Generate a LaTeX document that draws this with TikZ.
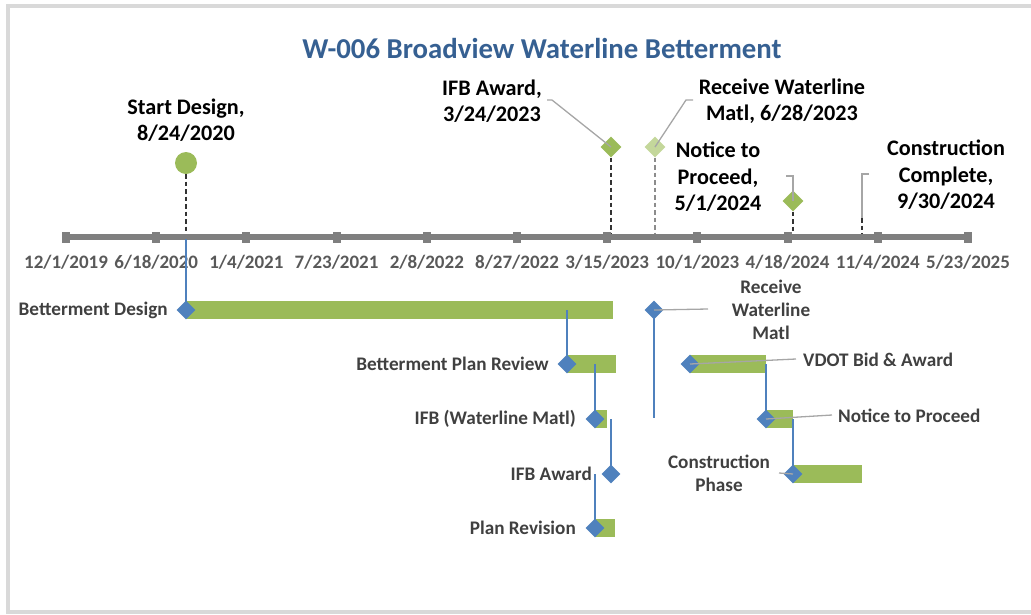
\documentclass[tikz,border=0pt]{standalone}
\usepackage{fontspec}
\setmainfont{Carlito}
\usetikzlibrary{shapes.geometric}
\definecolor{bargreen}{RGB}{155,187,89}
\definecolor{lightgreen}{RGB}{196,215,155}
\definecolor{diablue}{RGB}{79,129,189}
\definecolor{axisgray}{RGB}{127,127,127}
\definecolor{titleblue}{RGB}{54,96,146}
\definecolor{framegray}{RGB}{217,217,217}
\definecolor{labelgray}{RGB}{64,64,64}
\definecolor{ticklabel}{RGB}{89,89,89}
\definecolor{leadergray}{RGB}{166,166,166}
\begin{document}
\begin{tikzpicture}[x=1pt,y=-1pt,
  bar/.style={fill=bargreen},
  taskdia/.style={diamond, fill=diablue, draw=none, minimum width=19pt, minimum height=19pt, inner sep=0pt},
  msdia/.style={diamond, fill=bargreen, draw=none, minimum width=21pt, minimum height=21pt, inner sep=0pt},
  mscircle/.style={circle, fill=bargreen, draw=none, minimum size=22pt, inner sep=0pt},
  mslabel/.style={font=\fontsize{22.2}{26.5}\selectfont\bfseries, align=center, text=black, inner sep=0pt},
  ticklbl/.style={font=\fontsize{19}{23}\selectfont\bfseries, text=ticklabel, inner sep=0pt},
  tasklbl/.style={font=\fontsize{19.2}{23}\selectfont\bfseries, text=labelgray, inner sep=0pt, align=center},
  dropline/.style={draw=black!80, dashed, dash pattern=on 4.5pt off 3pt, line width=1.1pt},
  leader/.style={draw=leadergray, line width=1.3pt},
  errbar/.style={draw=diablue, line width=1.3pt},
  tickmark/.style={fill=axisgray}
]
\useasboundingbox (0,0) rectangle (1031,614);
% frame
\draw[framegray, line width=4pt] (1031,6) -- (8,6) -- (8,612) -- (1031,612);
% title
\node[font=\fontsize{28.8}{32}\selectfont\bfseries, text=titleblue, inner sep=0pt] (title) at (542,48) {W-006 Broadview Waterline Betterment};

% ---------------- top milestones ----------------
\node[mscircle] (msStart) at (186,163) {};
\node[msdia] (msIFB) at (611,147) {};
\node[msdia, fill=lightgreen] (msRecv) at (655,147) {};
\node[msdia] (msNTP) at (793,201) {};
\coordinate (msDone) at (862,218);

\coordinate (axStart) at (186,234);
\coordinate (axIFB) at (611,234);
\coordinate (axRecv) at (655,234);
\coordinate (axNTP) at (793,234);
\coordinate (axDone) at (862,234);

\draw[dropline] (msStart.south) -- (axStart);
\draw[dropline] (msIFB.south) -- (axIFB);
\draw[dropline, draw=black!45] (msRecv.south) -- (axRecv);
\draw[dropline] (msNTP.south) -- (axNTP);
\draw[dropline] (msDone) -- (axDone);

\node[mslabel] (lblStart) at (186,120) {Start Design,\\8/24/2020};
\node[mslabel] (lblIFB) at (492,101) {IFB Award,\\3/24/2023};
\node[mslabel] (lblRecv) at (782,101) {Receive Waterline\\Matl, 6/28/2023};
\node[mslabel] (lblNTP) at (718,177) {Notice to\\Proceed,\\5/1/2024};
\node[mslabel] (lblDone) at (946,175) {Construction\\Complete,\\9/30/2024};

\coordinate (ldIFB) at (547,100);
\coordinate (ldRecv) at (693,100);
\coordinate (ldNTP) at (786,176);
\coordinate (ldDone) at (869,174);
\draw[leader] (ldIFB) -- ++(5,0) -- (msIFB.center);
\draw[leader] (ldRecv) -- ++(-7,0) -- (msRecv.center);
\draw[leader] (ldNTP) -- ++(7,0) -- (msNTP.center);
\draw[leader] (ldDone) -- ++(-7,0) -- (msDone);

% ---------------- axis ----------------
\coordinate (axL) at (66,237);
\coordinate (axR) at (968,237);
\draw[axisgray, line width=6pt] (axL) -- (axR);
\foreach \i/\d in {0/12\slash 1\slash 2019, 1/6\slash 18\slash 2020, 2/1\slash 4\slash 2021, 3/7\slash 23\slash 2021, 4/2\slash 8\slash 2022, 5/8\slash 27\slash 2022, 6/3\slash 15\slash 2023, 7/10\slash 1\slash 2023, 8/4\slash 18\slash 2024, 9/11\slash 4\slash 2024, 10/5\slash 23\slash 2025}{
  \path[tickmark] ({66+\i*90.2-4},231.5) rectangle ({66+\i*90.2+4},242.5);
  \node[ticklbl] (tick\i) at ({66+\i*90.2},262) {\d};
}

% ---------------- gantt ----------------
% bars
\path[bar] (186,301) rectangle (613,319);
\path[bar] (567,355) rectangle (616,373);
\path[bar] (595,410) rectangle (607,428);
\path[bar] (595,519) rectangle (615,537);
\path[bar] (690,355) rectangle (766,373);
\path[bar] (766,410) rectangle (793,428);
\path[bar] (793,465) rectangle (862,483);

% diamonds
\node[taskdia] (tDesign) at (186,310) {};
\node[taskdia] (tReview) at (567,364) {};
\node[taskdia] (tIFBm) at (595,419) {};
\node[taskdia] (tIFBaw) at (611,474) {};
\node[taskdia] (tRevis) at (595,528) {};
\node[taskdia] (tRecv) at (654,310) {};
\node[taskdia] (tVDOT) at (690,364) {};
\node[taskdia] (tNTP) at (766,419) {};
\node[taskdia] (tConst) at (793,474) {};

% error-bar style connectors
\coordinate (eDesign) at (186,239);
\coordinate (eReview) at (567,310);
\coordinate (eIFBm) at (595,364);
\coordinate (eIFBaw) at (611,419);
\coordinate (eRevis) at (595,474);
\coordinate (eRecv) at (654,418);
\coordinate (eNTP) at (766,364);
\coordinate (eConst) at (793,419);
\draw[errbar] (eDesign) -- (tDesign.center);
\draw[errbar] (eReview) -- (tReview.center);
\draw[errbar] (eIFBm) -- (tIFBm.center);
\draw[errbar] (eIFBaw) -- (tIFBaw.center);
\draw[errbar] (eRevis) -- (tRevis.center);
\draw[errbar] (tRecv.center) -- (eRecv);
\draw[errbar] (eNTP) -- (tNTP.center);
\draw[errbar] (eConst) -- (tConst.center);

% labels
\node[tasklbl, anchor=east] (lDesign) at (168,310) {Betterment Design};
\node[tasklbl, anchor=east] (lReview) at (549,364) {Betterment Plan Review};
\node[tasklbl, anchor=east] (lIFBm) at (576,419) {IFB (Waterline Matl)};
\node[tasklbl, anchor=east] (lIFBaw) at (592,474) {IFB Award};
\node[tasklbl, anchor=east] (lRevis) at (576,528) {Plan Revision};
\node[tasklbl] (lRecv) at (771,310) {Receive\\Waterline\\Matl};
\node[tasklbl, anchor=west] (lVDOT) at (803,360) {VDOT Bid \& Award};
\node[tasklbl, anchor=west] (lNTP) at (838,416) {Notice to Proceed};
\node[tasklbl] (lConst) at (719,473) {Construction\\Phase};

% leaders
\coordinate (gRecv) at (708,309);
\coordinate (gVDOT) at (796,359);
\coordinate (gNTP) at (832,415);
\coordinate (gConst) at (779,473);
\draw[leader] (tRecv.center) -- (gRecv);
\draw[leader] (tVDOT.center) -- (gVDOT);
\draw[leader] (tNTP.center) -- (gNTP);
\draw[leader] (gConst) -- (tConst.center);
\end{tikzpicture}
\end{document}
